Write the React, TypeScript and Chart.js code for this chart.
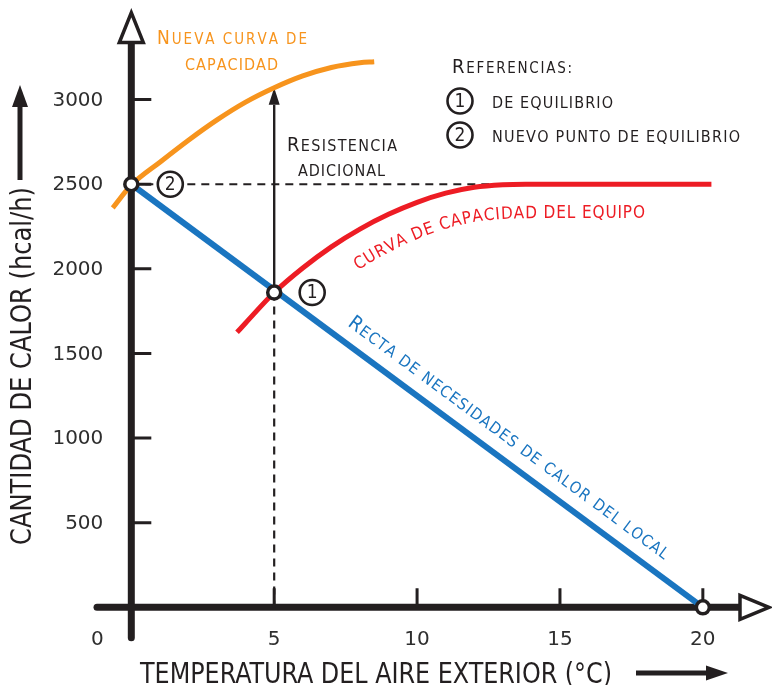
import { useEffect, useRef } from "react";
import { Chart, registerables } from "chart.js";
Chart.register(...registerables);

// ---- data ----
const DEMAND_X = [0, 20];
const DEMAND_Y = [2500, 0];
const EQUIP_X = [3.7, 4, 5, 6, 7, 8, 9, 10, 11, 12, 13, 13.8, 20.3];
const EQUIP_Y = [1625, 1680, 1860, 2005, 2130, 2235, 2322, 2393, 2447, 2482, 2497, 2500, 2500];
const NEW_X = [-0.65, 0, 1, 2, 3, 4, 5, 6, 7, 8, 8.5];
const NEW_Y = [2360, 2495, 2630, 2760, 2880, 2985, 3070, 3140, 3190, 3218, 3224];
const EQ_X = [0, 5, 20];
const EQ_Y = [2500, 1860, 0];
const X_TICKS = [5, 10, 15, 20];
const X_TICK_LABELS = ["0", "5", "10", "15", "20"];
const Y_TICKS = [500, 1000, 1500, 2000, 2500, 3000];
const Y_TICK_LABELS = ["500", "1000", "1500", "2000", "2500", "3000"];
const NEW_EQ_Y = 2500;
const DASH_END_X = 13.7;
const EQ_TEMP = 5;
const EQ_HEAT = 1860;
const ARROW_TOP = 3070;

const FONT = '"DejaVu Sans Condensed", "DejaVu Sans", sans-serif';
const INK = "#231f20";
const BLUE = "#1a75c0";
const RED = "#ed1c24";
const ORANGE = "#f7941d";

const pts = (xs: number[], ys: number[]) => xs.map((x, i) => ({ x, y: ys[i] }));

function scText(ctx: CanvasRenderingContext2D, text: string, x: number, y: number, big: number, small: number, color: string, width?: number) {
  const items = [...text].map((c) => {
    const isBig = c !== c.toLowerCase();
    const size = isBig ? big : small;
    ctx.font = `${size}px ${FONT}`;
    const ch = c.toUpperCase();
    return { ch, size, w: ctx.measureText(ch).width };
  });
  const natural = items.reduce((a, b) => a + b.w, 0);
  let spacing = 0, sx = 1;
  if (width) {
    if (width > natural) spacing = (width - natural) / Math.max(1, items.length - 1);
    else sx = width / natural;
  }
  ctx.save();
  ctx.translate(x, y);
  ctx.scale(sx, 1);
  ctx.fillStyle = color;
  ctx.textAlign = "left";
  ctx.textBaseline = "alphabetic";
  let cx = 0;
  for (const it of items) {
    ctx.font = `${it.size}px ${FONT}`;
    ctx.fillText(it.ch, cx, 0);
    cx += it.w + spacing;
  }
  ctx.restore();
}

function textOnPath(ctx: CanvasRenderingContext2D, text: string, path: { x: number; y: number }[], off: number, x0: number, x1: number, big: number, small: number, color: string) {
  const n = path.length;
  const q = path.map((p, i) => {
    const a = path[Math.max(0, i - 1)], b = path[Math.min(n - 1, i + 1)];
    let tx = b.x - a.x, ty = b.y - a.y;
    const l = Math.hypot(tx, ty) || 1;
    tx /= l; ty /= l;
    return { x: p.x + ty * off, y: p.y - tx * off };
  });
  const s: number[] = [0];
  for (let i = 1; i < n; i++) s.push(s[i - 1] + Math.hypot(q[i].x - q[i - 1].x, q[i].y - q[i - 1].y));
  const sAtX = (x: number) => {
    for (let i = 1; i < n; i++) {
      if (q[i].x >= x) {
        const t = (x - q[i - 1].x) / (q[i].x - q[i - 1].x || 1);
        return s[i - 1] + t * (s[i] - s[i - 1]);
      }
    }
    return s[n - 1];
  };
  const posAt = (ss: number) => {
    for (let i = 1; i < n; i++) {
      if (s[i] >= ss || i === n - 1) {
        const t = (ss - s[i - 1]) / (s[i] - s[i - 1] || 1);
        return { x: q[i - 1].x + t * (q[i].x - q[i - 1].x), y: q[i - 1].y + t * (q[i].y - q[i - 1].y) };
      }
    }
    return q[n - 1];
  };
  const items = [...text].map((c) => {
    const isBig = c !== c.toLowerCase();
    const size = isBig ? big : small;
    ctx.font = `${size}px ${FONT}`;
    const ch = c.toUpperCase();
    return { ch, size, w: ctx.measureText(ch).width };
  });
  const W = items.reduce((a, b) => a + b.w, 0);
  const S0 = sAtX(x0), S1 = sAtX(x1);
  const spacing = (S1 - S0 - W) / Math.max(1, items.length - 1);
  let acc = 0;
  ctx.fillStyle = color;
  ctx.textAlign = "center";
  ctx.textBaseline = "alphabetic";
  for (const it of items) {
    const sc = S0 + acc + it.w / 2;
    const p = posAt(sc);
    const pa = posAt(sc - 6), pb = posAt(sc + 6);
    const ang = Math.atan2(pb.y - pa.y, pb.x - pa.x);
    ctx.save();
    ctx.translate(p.x, p.y);
    ctx.rotate(ang);
    ctx.font = `${it.size}px ${FONT}`;
    ctx.fillText(it.ch, 0, 0);
    ctx.restore();
    acc += it.w + spacing;
  }
}

function fitText(ctx: CanvasRenderingContext2D, text: string, cx: number, cy: number, size: number, width: number, rot: number) {
  ctx.save();
  ctx.font = `${size}px ${FONT}`;
  const w = ctx.measureText(text).width;
  ctx.translate(cx, cy);
  ctx.rotate(rot);
  ctx.scale(width / w, 1);
  ctx.fillStyle = INK;
  ctx.textAlign = "center";
  ctx.textBaseline = "alphabetic";
  ctx.fillText(text, 0, 0);
  ctx.restore();
}

function circled(ctx: CanvasRenderingContext2D, x: number, y: number, label: string) {
  ctx.save();
  ctx.beginPath();
  ctx.arc(x, y, 12.5, 0, Math.PI * 2);
  ctx.fillStyle = "#fff";
  ctx.fill();
  ctx.lineWidth = 2.6;
  ctx.strokeStyle = INK;
  ctx.stroke();
  ctx.fillStyle = INK;
  ctx.font = `19px ${FONT}`;
  ctx.textAlign = "center";
  ctx.textBaseline = "middle";
  ctx.fillText(label, x, y + 1);
  ctx.restore();
}

function filledArrow(ctx: CanvasRenderingContext2D, x1: number, y1: number, x2: number, y2: number, lw: number, headLen: number, headHalf: number) {
  const ang = Math.atan2(y2 - y1, x2 - x1);
  const bx = x2 - Math.cos(ang) * headLen, by = y2 - Math.sin(ang) * headLen;
  ctx.save();
  ctx.strokeStyle = INK;
  ctx.fillStyle = INK;
  ctx.lineWidth = lw;
  ctx.beginPath();
  ctx.moveTo(x1, y1);
  ctx.lineTo(bx, by);
  ctx.stroke();
  ctx.beginPath();
  ctx.moveTo(x2, y2);
  ctx.lineTo(bx - Math.sin(ang) * headHalf, by + Math.cos(ang) * headHalf);
  ctx.lineTo(bx + Math.sin(ang) * headHalf, by - Math.cos(ang) * headHalf);
  ctx.closePath();
  ctx.fill();
  ctx.restore();
}

const diagramPlugin = {
  id: "diagram",
  beforeDatasetsDraw(chart: any) {
    const ctx: CanvasRenderingContext2D = chart.ctx;
    const xs = chart.scales.x, ys = chart.scales.y;
    const px = (v: number) => xs.getPixelForValue(v);
    const py = (v: number) => ys.getPixelForValue(v);
    const x0 = px(0), y0 = py(0);
    ctx.save();
    // dashed reference lines
    ctx.strokeStyle = INK;
    ctx.lineWidth = 2.2;
    ctx.setLineDash([8, 6]);
    ctx.beginPath();
    ctx.moveTo(px(EQ_TEMP), py(EQ_HEAT));
    ctx.lineTo(px(EQ_TEMP), y0);
    ctx.moveTo(x0, py(NEW_EQ_Y));
    ctx.lineTo(px(DASH_END_X), py(NEW_EQ_Y));
    ctx.stroke();
    ctx.setLineDash([]);
    // resistencia adicional arrow
    filledArrow(ctx, px(EQ_TEMP), py(EQ_HEAT), px(EQ_TEMP), py(ARROW_TOP), 2.4, 17, 5.5);
    // axes
    ctx.strokeStyle = INK;
    ctx.lineCap = "round";
    ctx.lineWidth = 7;
    const yTop = py(3000) - 57;
    ctx.beginPath();
    ctx.moveTo(x0, py(-180));
    ctx.lineTo(x0, yTop);
    ctx.stroke();
    const xRight = px(21.3);
    ctx.beginPath();
    ctx.moveTo(px(-1.2), y0);
    ctx.lineTo(xRight, y0);
    ctx.stroke();
    ctx.lineCap = "butt";
    // ticks
    ctx.lineWidth = 3;
    ctx.beginPath();
    for (const t of Y_TICKS) {
      ctx.moveTo(x0, py(t));
      ctx.lineTo(x0 + 20, py(t));
    }
    for (const t of X_TICKS) {
      ctx.moveTo(px(t), y0);
      ctx.lineTo(px(t), y0 - 19);
    }
    ctx.stroke();
    // open arrowheads
    ctx.lineWidth = 3.5;
    ctx.lineJoin = "miter";
    ctx.fillStyle = "#fff";
    ctx.beginPath();
    ctx.moveTo(x0, yTop - 30);
    ctx.lineTo(x0 + 12, yTop);
    ctx.lineTo(x0 - 12, yTop);
    ctx.closePath();
    ctx.fill();
    ctx.stroke();
    ctx.beginPath();
    ctx.moveTo(xRight + 29, y0);
    ctx.lineTo(xRight, y0 - 12);
    ctx.lineTo(xRight, y0 + 12);
    ctx.closePath();
    ctx.fill();
    ctx.stroke();
    ctx.restore();
  },
  afterDatasetsDraw(chart: any) {
    const ctx: CanvasRenderingContext2D = chart.ctx;
    const xs = chart.scales.x, ys = chart.scales.y;
    const px = (v: number) => xs.getPixelForValue(v);
    const py = (v: number) => ys.getPixelForValue(v);
    const x0 = px(0), y0 = py(0);
    ctx.save();
    // tick labels
    ctx.fillStyle = "#2e2e2e";
    ctx.font = `20px "DejaVu Sans", sans-serif`;
    ctx.textAlign = "right";
    ctx.textBaseline = "middle";
    Y_TICKS.forEach((t, i) => ctx.fillText(Y_TICK_LABELS[i], x0 - 28, py(t) + 1));
    ctx.textAlign = "center";
    ctx.fillText(X_TICK_LABELS[0], x0 - 34, y0 + 32);
    X_TICKS.forEach((t, i) => ctx.fillText(X_TICK_LABELS[i + 1], px(t), y0 + 32));
    // axis titles
    fitText(ctx, "CANTIDAD DE CALOR (hcal/h)", 31, 366, 28, 358, -Math.PI / 2);
    fitText(ctx, "TEMPERATURA DEL AIRE EXTERIOR (°C)", 376, 683, 28, 472, 0);
    filledArrow(ctx, 20, 180, 20, 85, 5, 22, 8);
    filledArrow(ctx, 636, 673, 728, 673, 5, 22, 7.5);
    // circled markers
    circled(ctx, x0 + 39, py(NEW_EQ_Y), "2");
    circled(ctx, px(EQ_TEMP) + 38, py(EQ_HEAT), "1");
    // labels
    scText(ctx, "Nueva curva de", 157, 44, 19, 15, ORANGE, 150);
    scText(ctx, "capacidad", 185, 70, 19, 16, ORANGE, 93);
    scText(ctx, "Resistencia", 287, 151, 20, 16, INK, 110);
    scText(ctx, "adicional", 298, 176, 20, 16, INK, 87);
    scText(ctx, "Referencias:", 452, 73, 20, 15, INK, 120);
    circled(ctx, 460, 101, "1");
    circled(ctx, 460, 135, "2");
    scText(ctx, "de equilibrio", 492, 108, 20, 16, INK, 121);
    scText(ctx, "nuevo punto de equilibrio", 492, 142, 20, 16, INK, 248);
    // labels along the curves
    const redPath = EQUIP_X.map((x, i) => ({ x: px(x), y: py(EQUIP_Y[i]) }));
    textOnPath(ctx, "curva de capacidad del equipo", redPath, -34, 358, 645, 20, 17, RED);
    const bluePath = DEMAND_X.map((x, i) => ({ x: px(x), y: py(DEMAND_Y[i]) }));
    textOnPath(ctx, "Recta de necesidades de calor del local", bluePath, 15, 347, 664, 20, 16, BLUE);
    ctx.restore();
  },
};

export default function App() {
  const ref = useRef<HTMLCanvasElement>(null);
  useEffect(() => {
    if (!ref.current) return;
    const chart = new Chart(ref.current, {
      type: "line",
      data: {
        datasets: [
          {
            label: "Puntos de equilibrio",
            data: pts(EQ_X, EQ_Y),
            showLine: false,
            pointRadius: 6.5,
            pointBorderWidth: 3.5,
            pointBackgroundColor: "#fff",
            pointBorderColor: INK,
            order: 0,
          } as any,
          {
            label: "Recta de necesidades de calor del local",
            data: pts(DEMAND_X, DEMAND_Y),
            borderColor: BLUE,
            borderWidth: 6,
            pointRadius: 0,
            order: 1,
          },
          {
            label: "Curva de capacidad del equipo",
            data: pts(EQUIP_X, EQUIP_Y),
            borderColor: RED,
            borderWidth: 5,
            pointRadius: 0,
            cubicInterpolationMode: "monotone",
            order: 2,
          },
          {
            label: "Nueva curva de capacidad",
            data: pts(NEW_X, NEW_Y),
            borderColor: ORANGE,
            borderWidth: 5,
            pointRadius: 0,
            cubicInterpolationMode: "monotone",
            order: 3,
          },
        ],
      },
      options: {
        responsive: false,
        animation: false,
        events: [],
        layout: { padding: { left: 17, right: 12, top: 15, bottom: 8 } },
        plugins: { legend: { display: false }, tooltip: { enabled: false } },
        scales: {
          x: { type: "linear", min: -4, max: 22, display: false },
          y: { type: "linear", min: -400, max: 3500, display: false },
        },
      },
      plugins: [diagramPlugin],
    });
    return () => chart.destroy();
  }, []);
  return (
    <div style={{ position: "absolute", left: 0, top: 0, width: 772, height: 685, background: "#fff" }}>
      <canvas ref={ref} width={772} height={685} />
    </div>
  );
}
